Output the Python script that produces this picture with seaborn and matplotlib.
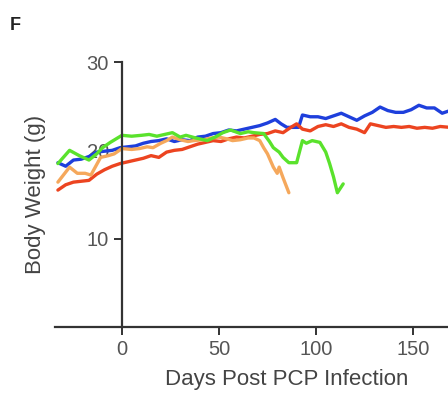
import numpy as np
import pandas as pd
import matplotlib
matplotlib.use("Agg")
import matplotlib.pyplot as plt
import seaborn as sns

blue_days = [-33, -29, -25, -21, -17, -13, -9, -5, -1, 3, 7, 11, 15, 19, 23, 27, 31, 35, 39, 43, 47, 51, 55, 59, 63, 67, 71, 75, 79, 82, 85, 88, 91, 93, 97, 101, 105, 109, 113, 117, 121, 125, 129, 133, 137, 141, 145, 149, 153, 157, 161, 165, 169]
blue_wt = [18.6, 18.2, 18.9, 19.0, 19.3, 19.8, 19.9, 20.0, 20.3, 20.4, 20.5, 20.8, 21.0, 21.1, 21.3, 21.0, 21.2, 21.1, 21.5, 21.6, 21.9, 22.0, 22.3, 22.2, 22.4, 22.6, 22.8, 23.1, 23.5, 23.0, 22.6, 22.6, 22.6, 24.0, 23.8, 23.8, 23.6, 23.9, 24.2, 23.8, 23.4, 23.9, 24.3, 24.9, 24.5, 24.3, 24.3, 24.6, 25.1, 24.8, 24.8, 24.2, 24.5]

red_days = [-33, -29, -25, -21, -17, -13, -9, -5, -1, 3, 7, 11, 15, 19, 23, 27, 31, 35, 39, 43, 47, 51, 55, 59, 63, 67, 71, 75, 79, 83, 87, 90, 93, 97, 101, 105, 109, 113, 117, 121, 125, 128, 132, 136, 140, 144, 148, 152, 156, 160, 164, 169]
red_wt = [15.5, 16.1, 16.4, 16.5, 16.6, 17.3, 17.8, 18.2, 18.5, 18.7, 18.9, 19.1, 19.4, 19.2, 19.8, 20.0, 20.1, 20.4, 20.7, 20.9, 21.1, 21.0, 21.3, 21.5, 21.4, 21.6, 21.8, 21.9, 22.2, 22.0, 22.6, 23.0, 22.4, 22.2, 22.7, 22.9, 22.7, 23.0, 22.6, 22.4, 22.0, 23.0, 22.8, 22.6, 22.7, 22.6, 22.7, 22.5, 22.6, 22.5, 22.7, 22.6]

orange_days = [-33, -27, -23, -19, -16, -11, -7, -4, 0, 5, 9, 13, 16, 20, 23, 26, 30, 34, 37, 42, 46, 50, 54, 57, 61, 65, 68, 71, 73, 75, 78, 80, 81, 83, 86]
orange_wt = [16.4, 18.1, 17.4, 17.4, 17.2, 19.2, 19.4, 19.6, 20.2, 20.1, 20.2, 20.4, 20.3, 20.8, 21.1, 21.5, 21.2, 21.0, 21.1, 21.2, 21.4, 21.5, 21.3, 21.1, 21.2, 21.4, 21.4, 21.1, 20.3, 19.6, 18.1, 17.4, 18.1, 16.9, 15.2]

green_days = [-33, -27, -22, -17, -13, -10, -6, 0, 5, 10, 14, 18, 22, 26, 30, 33, 38, 44, 48, 52, 56, 61, 65, 68, 73, 76, 78, 81, 83, 86, 90, 93, 95, 98, 102, 105, 107, 109, 111, 114]
green_wt = [18.5, 20.0, 19.4, 18.9, 19.6, 20.3, 20.9, 21.7, 21.6, 21.7, 21.8, 21.6, 21.8, 22.0, 21.5, 21.7, 21.4, 21.1, 21.5, 22.0, 22.3, 21.9, 22.1, 22.0, 21.9, 21.0, 20.3, 19.8, 19.2, 18.6, 18.6, 21.1, 20.8, 21.1, 20.9, 19.8, 18.5, 17.0, 15.2, 16.2]

groups = ["blue", "red", "orange", "green"]
colors = {"blue": "#1e3fdc", "red": "#ec4420", "orange": "#f5a85c", "green": "#5ae22c"}

frames = []
for g, d, w in [("blue", blue_days, blue_wt), ("red", red_days, red_wt),
                ("orange", orange_days, orange_wt), ("green", green_days, green_wt)]:
    frames.append(pd.DataFrame({"day": d, "weight": w, "group": g}))
df = pd.concat(frames, ignore_index=True)

sns.set_style("ticks")
plt.rcParams["font.family"] = ["Liberation Sans", "DejaVu Sans"]

fig = plt.figure(figsize=(4.48, 3.93), dpi=100)
ax = fig.add_axes([55 / 448, (393 - 327) / 393, (448 - 55) / 448, (327 - 62) / 393])

sns.lineplot(data=df, x="day", y="weight", hue="group", hue_order=groups,
             palette=colors, linewidth=2.4, legend=False, ax=ax, zorder=3,
             estimator=None, sort=False)

ax.set_xlim(-34.5, 168)
ax.set_ylim(0, 30)
ax.set_xticks([0, 50, 100, 150])
ax.set_yticks([10, 20, 30])

ax.spines["left"].set_position(("data", 0))
ax.spines["right"].set_visible(False)
ax.spines["top"].set_visible(False)
for s in ["left", "bottom"]:
    ax.spines[s].set_color("#333333")
    ax.spines[s].set_linewidth(1.6)
ax.spines["left"].set_zorder(5)
ax.spines["bottom"].set_zorder(5)

ax.tick_params(axis="both", colors="#333333", labelcolor="#555555", labelsize=14.5,
               length=6, width=1.4, direction="out")

ax.set_xlabel("Days Post PCP Infection", fontsize=16, color="#444444")
ax.set_ylabel("Body Weight (g)", fontsize=16, color="#444444")
ax.xaxis.set_label_coords((287 - 55) / 393, -(380 - 327) / 265)
ax.xaxis.label.set_va("center")
ax.yaxis.set_label_coords((36 - 55) / 393, 0.5)
ax.yaxis.label.set_va("center")

fig.text(15 / 448, 1 - 26 / 393, "F", fontsize=13, fontweight="bold",
         color="#222222", ha="center", va="center")

fig.savefig("out.png", dpi=100)
